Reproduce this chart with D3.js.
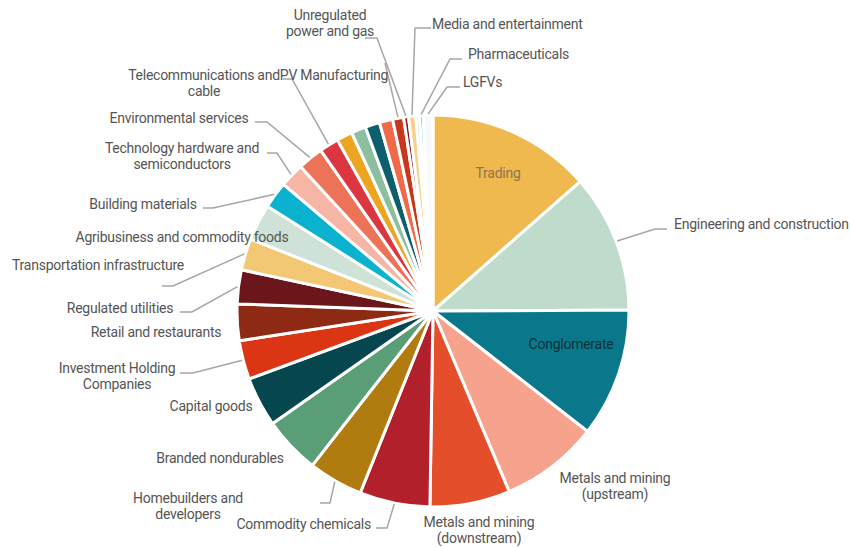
<!DOCTYPE html>
<html>
<head>
<meta charset="utf-8">
<script src="https://cdn.jsdelivr.net/npm/d3@7"></script>
<style>
  body { margin: 0; background: #fff; }
  svg { display: block; }
</style>
</head>
<body>
<div id="chart"></div>
<script>
// Sector shares (%), clockwise from 12 o'clock; '' = slice without a visible label
const categories = [
    'Trading', 'Engineering and construction', 'Conglomerate',
    'Metals and mining (upstream)', 'Metals and mining (downstream)', 'Commodity chemicals',
    'Homebuilders and developers', 'Branded nondurables', 'Capital goods',
    'Investment Holding Companies', 'Retail and restaurants', 'Regulated utilities',
    'Transportation infrastructure', 'Agribusiness and commodity foods', 'Building materials',
    'Technology hardware and semiconductors', 'Environmental services', 'Telecommunications and cable',
    '', '', '', '',
    'PV Manufacturing', 'Unregulated power and gas', 'Media and entertainment',
    '', 'Pharmaceuticals', 'LGFVs'
];
const shares = [
    13.5, 11.4, 10.6,
    8.1, 6.6, 5.8,
    4.5, 4.7, 4.1,
    3.2, 3.0, 2.8,
    2.6, 3.0, 2.2,
    2.0, 2.1, 1.6,
    1.3, 1.2, 1.2, 1.1,
    0.9, 0.4, 0.6,
    0.3, 0.3, 0.8
];

// Palette, same order as the categories
const palette = [
    '#f0b94f', '#bfdbcb', '#0a788b',
    '#f7a28d', '#e54e2b', '#b2202b',
    '#b07c10', '#5a9e77', '#06474f',
    '#dc3514', '#8e2913', '#6b161b',
    '#f3c874', '#cfe2d7', '#0ab2d0',
    '#f7b5a6', '#ec7357', '#dc3741',
    '#eba521', '#8bbf9f', '#0e5f6e', '#f06a4a',
    '#c8371c', '#8b1a1f', '#f6d28c',
    '#c9e0d4', '#2bc3e9', '#f6fafb'
];

// Label placement (annotation layout, keyed by category)
// lines: text lines, x/y: first line centre, lead: [startX, startY, elbowX] for the leader
const labelLayout = {
    'Trading': { lines: ['Trading'], x: 498, y: 173, anchor: 'middle', fill: '#8a7650' },
    'Engineering and construction': { lines: ['Engineering and construction'], x: 674, y: 224, anchor: 'start', lead: [667, 229, 655] },
    'Conglomerate': { lines: ['Conglomerate'], x: 571, y: 344, anchor: 'middle', fill: '#10303a' },
    'Metals and mining (upstream)': { lines: ['Metals and mining', '(upstream)'], x: 615, y: 478, anchor: 'middle' },
    'Metals and mining (downstream)': { lines: ['Metals and mining', '(downstream)'], x: 479, y: 522, anchor: 'middle' },
    'Commodity chemicals': { lines: ['Commodity chemicals'], x: 371, y: 524, anchor: 'end', lead: [376, 528, 387] },
    'Homebuilders and developers': { lines: ['Homebuilders and', 'developers'], x: 188, y: 498, anchor: 'middle', lead: [320, 503, 330] },
    'Branded nondurables': { lines: ['Branded nondurables'], x: 220, y: 458, anchor: 'middle' },
    'Capital goods': { lines: ['Capital goods'], x: 211, y: 406, anchor: 'middle' },
    'Investment Holding Companies': { lines: ['Investment Holding', 'Companies'], x: 117, y: 368, anchor: 'middle', lead: [180, 373, 193] },
    'Retail and restaurants': { lines: ['Retail and restaurants'], x: 156, y: 332, anchor: 'middle' },
    'Regulated utilities': { lines: ['Regulated utilities'], x: 120, y: 308, anchor: 'middle', lead: [180, 312, 192] },
    'Transportation infrastructure': { lines: ['Transportation infrastructure'], x: 98, y: 265, anchor: 'middle', lead: [162, 286, 173] },
    'Agribusiness and commodity foods': { lines: ['Agribusiness and commodity foods'], x: 182, y: 237, anchor: 'middle' },
    'Building materials': { lines: ['Building materials'], x: 143, y: 204, anchor: 'middle', lead: [203, 208, 213] },
    'Technology hardware and semiconductors': { lines: ['Technology hardware and', 'semiconductors'], x: 182, y: 148, anchor: 'middle', lead: [267, 153, 277] },
    'Environmental services': { lines: ['Environmental services'], x: 179, y: 118, anchor: 'middle', lead: [255, 122, 267] },
    'Telecommunications and cable': { lines: ['Telecommunications and', 'cable'], x: 204, y: 75, anchor: 'middle', lead: [283, 79, 292] },
    'PV Manufacturing': { lines: ['PV Manufacturing'], x: 334, y: 75, anchor: 'middle', lead: [385, 63, 385] },
    'Unregulated power and gas': { lines: ['Unregulated', 'power and gas'], x: 330, y: 15, anchor: 'middle', lead: [365, 38, 377] },
    'Media and entertainment': { lines: ['Media and entertainment'], x: 432, y: 24, anchor: 'start', lead: [431, 28, 415] },
    'Pharmaceuticals': { lines: ['Pharmaceuticals'], x: 468, y: 54, anchor: 'start', lead: [462, 59, 450] },
    'LGFVs': { lines: ['LGFVs'], x: 463, y: 82, anchor: 'start', lead: [460, 87, 447] }
};

const width = 851;
const height = 547;
const cx = 433;
const cy = 311;
const radius = 196;
const lineGap = 16.5;

const data = categories.map((name, i) => ({ name, value: shares[i], color: palette[i] }));

const svg = d3.select('#chart').append('svg')
    .attr('width', width)
    .attr('height', height)
    .attr('viewBox', [0, 0, width, height]);

const pie = d3.pie().sort(null).value(d => d.value);
const arcs = pie(data);
const arc = d3.arc().innerRadius(0).outerRadius(radius);

const g = svg.append('g').attr('transform', `translate(${cx},${cy})`);

// Slices, separated by a white outline
g.selectAll('path.slice')
    .data(arcs)
    .join('path')
    .attr('class', 'slice')
    .attr('d', arc)
    .attr('fill', d => d.data.color)
    .attr('stroke', '#fff')
    .attr('stroke-width', 3)
    .attr('stroke-linejoin', 'miter');

// Leader lines: label -> elbow -> slice edge at mid angle
const edgePoint = (d) => {
    const a = (d.startAngle + d.endAngle) / 2;
    return [cx + Math.sin(a) * (radius + 1), cy - Math.cos(a) * (radius + 1)];
};

const labelled = arcs.filter(d => labelLayout[d.data.name]);

svg.append('g')
    .selectAll('path')
    .data(labelled.filter(d => labelLayout[d.data.name].lead))
    .join('path')
    .attr('d', d => {
        const [sx, sy, ex] = labelLayout[d.data.name].lead;
        const [px, py] = edgePoint(d);
        return d3.line()([[sx, sy], [ex, sy], [px, py]]);
    })
    .attr('fill', 'none')
    .attr('stroke', '#a6a6a6')
    .attr('stroke-width', 1.5);

// Labels
const labels = svg.append('g')
    .style('font-family', 'Roboto, "Open Sans", sans-serif')
    .style('font-size', '14px');

labelled.forEach(d => {
    const L = labelLayout[d.data.name];
    const t = labels.append('text')
        .attr('text-anchor', L.anchor)
        .attr('fill', L.fill || '#555555')
        .attr('letter-spacing', '-0.25');
    L.lines.forEach((line, i) => {
        t.append('tspan')
            .attr('x', L.x)
            .attr('y', L.y + i * lineGap)
            .attr('dy', '0.35em')
            .text(line);
    });
});
</script>
</body>
</html>
